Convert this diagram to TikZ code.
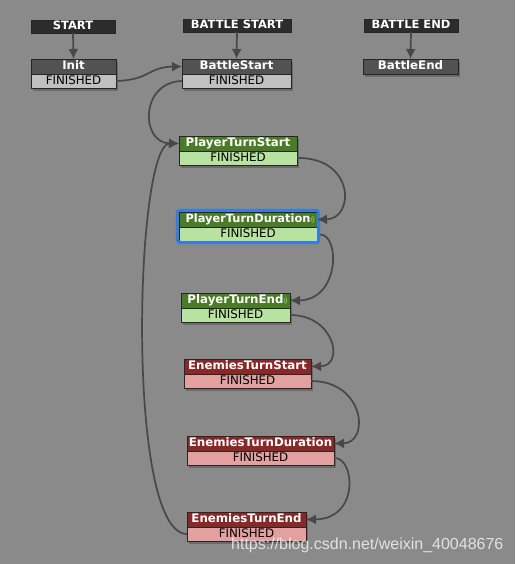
\documentclass[tikz,border=0pt]{standalone}
\usepackage{fontspec}
\setmainfont{DejaVu Sans}
\newfontfamily\wmfont{Liberation Sans}
\usetikzlibrary{arrows.meta,shadows}
\definecolor{bg}{RGB}{138,138,138}
\definecolor{hdr}{RGB}{44,44,44}
\definecolor{grayT}{RGB}{82,82,82}
\definecolor{grayF}{RGB}{192,192,192}
\definecolor{greenT}{RGB}{74,124,40}
\definecolor{greenF}{RGB}{184,226,160}
\definecolor{redT}{RGB}{138,40,40}
\definecolor{redF}{RGB}{226,160,160}
\definecolor{edgec}{RGB}{72,72,72}
\definecolor{sel}{RGB}{58,124,218}
\begin{document}
\begin{tikzpicture}[x=1pt,y=-1pt,
  box/.style={draw=black!85, line width=0.9pt, inner sep=0pt, outer sep=0pt, anchor=north west,
    text height=8.8pt, text depth=2pt},
  shad/.style={drop shadow={shadow xshift=2pt, shadow yshift=-3pt, opacity=0.22, fill=black}},
  header/.style={box, fill=hdr, minimum height=13pt, text=white,
    font=\fontsize{11.5}{11.5}\selectfont\bfseries},
  title/.style={box, shad, minimum height=15pt, text=white,
    font=\fontsize{11.8}{11.8}\selectfont\bfseries},
  fin/.style={box, shad, minimum height=14pt, text=black,
    font=\fontsize{11.8}{11.8}\selectfont},
  edge/.style={draw=edgec, line width=1.7pt, -{Latex[length=10pt,width=10pt]}},
  icon/.style={draw=greenF!70!greenT, line width=0.6pt}
]
\fill[bg] (0,0) rectangle (515,564);
\useasboundingbox (0,0) rectangle (515,564);

% headers
\node[header, minimum width=84pt] (hstart) at (31,20) {START};
\node[header, minimum width=108pt] (hbs) at (183,19) {BATTLE START};
\node[header, minimum width=94pt] (hbe) at (364,19) {BATTLE END};

% Init
\node[title, fill=grayT, minimum width=85pt] (initT) at (31,59) {Init};
\node[fin, fill=grayF, minimum width=85pt] (initF) at (initT.south west) {FINISHED};
% BattleStart
\node[title, fill=grayT, minimum width=109pt] (bsT) at (182,59) {BattleStart};
\node[fin, fill=grayF, minimum width=109pt] (bsF) at (bsT.south west) {FINISHED};
% BattleEnd
\node[title, fill=grayT, minimum width=95pt] (beT) at (363,59) {BattleEnd};

% Player turn
\node[title, fill=greenT, minimum width=118pt] (ptsT) at (179,136) {PlayerTurnStart};
\node[fin, fill=greenF, minimum width=118pt] (ptsF) at (ptsT.south west) {FINISHED};

\node[title, fill=greenT, minimum width=138pt, font=\fontsize{11.4}{11.4}\selectfont\bfseries] (ptdT) at (179,212) {PlayerTurnDuration\hspace{6pt}};
\node[fin, fill=greenF, minimum width=138pt] (ptdF) at (ptdT.south west) {FINISHED};
\draw[sel, line width=3pt, rounded corners=2.5pt] (177.3,210.3) rectangle (318.7,242.7);
\coordinate (ptdOut) at (320,234.5);

\node[title, fill=greenT, minimum width=109pt] (pteT) at (181,293) {PlayerTurnEnd\hspace{5pt}};
\node[fin, fill=greenF, minimum width=109pt] (pteF) at (pteT.south west) {FINISHED};

% icons
\draw[icon] ([xshift=-8pt]ptdT.east) ++(-40:3pt) arc (-40:40:3pt);
\draw[icon] ([xshift=-8pt]ptdT.east) ++(-45:5pt) arc (-45:45:5pt);
\draw[icon] ([xshift=-8pt]pteT.east) ++(-40:3pt) arc (-40:40:3pt);
\draw[icon] ([xshift=-8pt]pteT.east) ++(-45:5pt) arc (-45:45:5pt);

% Enemies turn
\node[title, fill=redT, minimum width=127pt] (etsT) at (184,359) {EnemiesTurnStart};
\node[fin, fill=redF, minimum width=127pt] (etsF) at (etsT.south west) {FINISHED};

\node[title, fill=redT, minimum width=147pt] (etdT) at (187,436) {EnemiesTurnDuration};
\node[fin, fill=redF, minimum width=147pt] (etdF) at (etdT.south west) {FINISHED};

\node[title, fill=redT, minimum width=119pt] (eteT) at (187,512) {EnemiesTurnEnd};
\node[fin, fill=redF, minimum width=119pt] (eteF) at (eteT.south west) {FINISHED};

% edges
\draw[edge] (hstart.south) -- (initT.north);
\draw[edge] (hbs.south) -- (bsT.north);
\draw[edge] (hbe.south) -- (beT.north);
\draw[edge] (initF.east) .. controls (150,80) and (148,67) .. (bsT.west);
\draw[edge] (bsF.west) .. controls (140,82) and (140,143) .. (ptsT.west);
\draw[edge] (eteF.west) .. controls (125,534) and (135,143) .. (ptsT.west);
\draw[edge] (ptsF.east) .. controls (355,157) and (355,219) .. (ptdT.east);
\draw[edge] (ptdOut) .. controls (340,234) and (340,300) .. (pteT.east);
\draw[edge] (pteF.east) .. controls (335,315) and (345,366) .. (etsT.east);
\draw[edge] (etsF.east) .. controls (365,381) and (370,443) .. (etdT.east);
\draw[edge] (etdF.east) .. controls (355,457) and (360,519) .. (eteT.east);

% watermark
\node[font=\wmfont\fontsize{16}{16}\selectfont, text=white, opacity=0.75, anchor=west, inner sep=0pt] (wm) at (231,545) {https://blog.csdn.net/weixin\_40048676};
\end{tikzpicture}
\end{document}
